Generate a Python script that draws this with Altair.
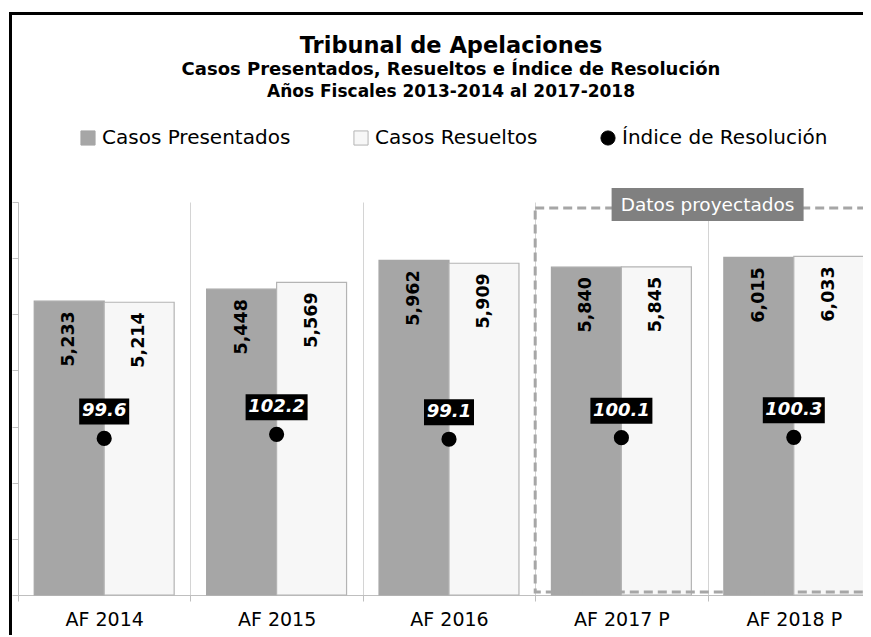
import altair as alt
import pandas as pd

categorias = ["AF 2014", "AF 2015", "AF 2016", "AF 2017 P", "AF 2018 P"]
presentados = [5233, 5448, 5962, 5840, 6015]
resueltos = [5214, 5569, 5909, 5845, 6033]
indice = [99.6, 102.2, 99.1, 100.1, 100.3]
series = ["Casos Presentados", "Casos Resueltos", "Índice de Resolución"]
titulo = "Tribunal de Apelaciones"
subtitulo1 = "Casos Presentados, Resueltos e Índice de Resolución"
subtitulo2 = "Años Fiscales 2013-2014 al 2017-2018"
nota = "Datos proyectados"

FONT = "DejaVu Sans"
W, H = 862, 393
STEP = W / len(categorias)

bars_df = pd.DataFrame({
    "cat": categorias * 2,
    "serie": [series[0]] * len(categorias) + [series[1]] * len(categorias),
    "valor": presentados + resueltos,
})
idx_df = pd.DataFrame({
    "cat": categorias,
    "serie": [series[2]] * len(categorias),
    "indice": indice,
    "etiqueta": [f"{v:.1f}" for v in indice],
})
uno = pd.DataFrame({"k": [0]})

x_scale = alt.Scale(domain=categorias, paddingInner=0, paddingOuter=0)
fill_scale = alt.Scale(domain=series, range=["#a6a6a6", "#f7f7f7", "#000000"])
stroke_scale = alt.Scale(domain=series, range=["#a6a6a6", "#b4b4b4", "#000000"])
shape_scale = alt.Scale(domain=series, range=["square", "square", "circle"])
off_scale = alt.Scale(domain=series[:2], paddingInner=0, paddingOuter=0.232)

x_axis = alt.Axis(title=None, tickBand="extent", grid=True, gridColor="#d4d4d4",
                  domainColor="#bfbfbf", tickColor="#bfbfbf", tickSize=6,
                  labelFont=FONT, labelFontSize=19, labelColor="#000000",
                  labelPadding=9, labelAngle=0, labelLimit=200)
y_axis = alt.Axis(title=None, labels=False, grid=False,
                  values=[0, 1000, 2000, 3000, 4000, 5000, 6000, 7000],
                  tickSize=6, tickColor="#bfbfbf", domainColor="#bfbfbf")

legend = alt.Legend(title=None, orient="none", legendX=60, legendY=-74,
                    direction="horizontal", columns=3, columnPadding=60,
                    symbolSize=200, symbolStrokeWidth=1, labelOffset=4,
                    labelLimit=320,
                    labelFont=FONT, labelFontSize=20, labelColor="#000000")

base = alt.Chart(bars_df)
bars = base.mark_bar(strokeWidth=1.2).encode(
    x=alt.X("cat:N", scale=x_scale, axis=x_axis),
    xOffset=alt.XOffset("serie:N", scale=off_scale),
    y=alt.Y("valor:Q", scale=alt.Scale(domain=[0, 7000]), axis=y_axis),
    fill=alt.Fill("serie:N", scale=fill_scale, legend=legend),
    stroke=alt.Stroke("serie:N", scale=stroke_scale, legend=legend),
)
bar_labels = base.mark_text(angle=270, align="right", baseline="middle", dx=-10,
                            font=FONT, fontSize=17.5, fontWeight="bold",
                            color="#000000").encode(
    x=alt.X("cat:N"),
    xOffset=alt.XOffset("serie:N"),
    y=alt.Y("valor:Q"),
    text=alt.Text("valor:Q", format=","),
)

deco = alt.Chart(uno)
dashed = deco.mark_rect(fillOpacity=0, stroke="#a6a6a6", strokeWidth=3,
                        strokeDash=[9, 5]).encode(
    x=alt.XDatum("AF 2017 P", type="nominal", bandPosition=0),
    x2=alt.value(W + 40),
    y=alt.value(6),
    y2=alt.value(H - 3),
)
nota_box = deco.mark_tick(orient="horizontal", size=192, thickness=33,
                          color="#808080", opacity=1, xOffset=-STEP / 2).encode(
    x=alt.XDatum("AF 2018 P", type="nominal"),
    y=alt.value(2.5),
)
nota_text = deco.mark_text(text=nota, color="#ffffff", font=FONT, fontSize=18.5,
                           baseline="middle", align="center").encode(
    x=alt.XDatum("AF 2018 P", type="nominal", bandPosition=0),
    y=alt.value(3),
)

group1 = alt.layer(bars, bar_labels, dashed, nota_box, nota_text)

ibase = alt.Chart(idx_df).transform_calculate(
    w="length(datum.etiqueta) * 12 + 2"
)
iy = alt.Y("indice:Q", scale=alt.Scale(domain=[0, 250]), axis=None)
idx_box = ibase.mark_tick(orient="horizontal", thickness=26, color="#000000",
                          opacity=1, yOffset=-27).encode(
    x=alt.X("cat:N"),
    y=iy,
    size=alt.Size("w:Q", scale=None, legend=None),
)
idx_dot = ibase.mark_point(filled=True, size=230, opacity=1).encode(
    x=alt.X("cat:N"),
    y=iy,
    fill=alt.Fill("serie:N", scale=fill_scale, legend=legend),
    shape=alt.Shape("serie:N", scale=shape_scale, legend=legend),
)
idx_text = ibase.mark_text(color="#ffffff", font=FONT, fontSize=18,
                           fontWeight="bold", fontStyle="italic",
                           baseline="middle", dy=-27).encode(
    x=alt.X("cat:N"),
    y=iy,
    text=alt.Text("etiqueta:N"),
)
group2 = alt.layer(idx_box, idx_dot, idx_text)

frame_left = deco.mark_rule(color="#000000", strokeWidth=3).encode(
    x=alt.value(-7.5), y=alt.value(-190), y2=alt.value(H + 60))
frame_top = deco.mark_rule(color="#000000", strokeWidth=3).encode(
    x=alt.value(-9), x2=alt.value(W + 40), y=alt.value(-188.5))
t1 = deco.mark_text(text=titulo, font=FONT, fontSize=22.5, fontWeight="bold",
                    color="#000000", align="center", baseline="middle").encode(
    x=alt.value(433), y=alt.value(-156))
t2 = deco.mark_text(text=subtitulo1, font=FONT, fontSize=18, fontWeight="bold",
                    color="#000000", align="center", baseline="middle").encode(
    x=alt.value(433), y=alt.value(-132))
t3 = deco.mark_text(text=subtitulo2, font=FONT, fontSize=17, fontWeight="bold",
                    color="#000000", align="center", baseline="middle").encode(
    x=alt.value(433), y=alt.value(-110))

chart = alt.layer(frame_left, frame_top, t1, t2, t3, group1, group2).resolve_scale(
    y="independent"
).properties(
    width=W, height=H,
    padding={"left": 10, "top": 194, "right": -17, "bottom": 40},
    autosize=alt.AutoSizeParams(type="none"),
    background="#ffffff",
).configure_view(stroke=None)

chart.save("out.html", embed_options={"renderer": "svg", "actions": False})
